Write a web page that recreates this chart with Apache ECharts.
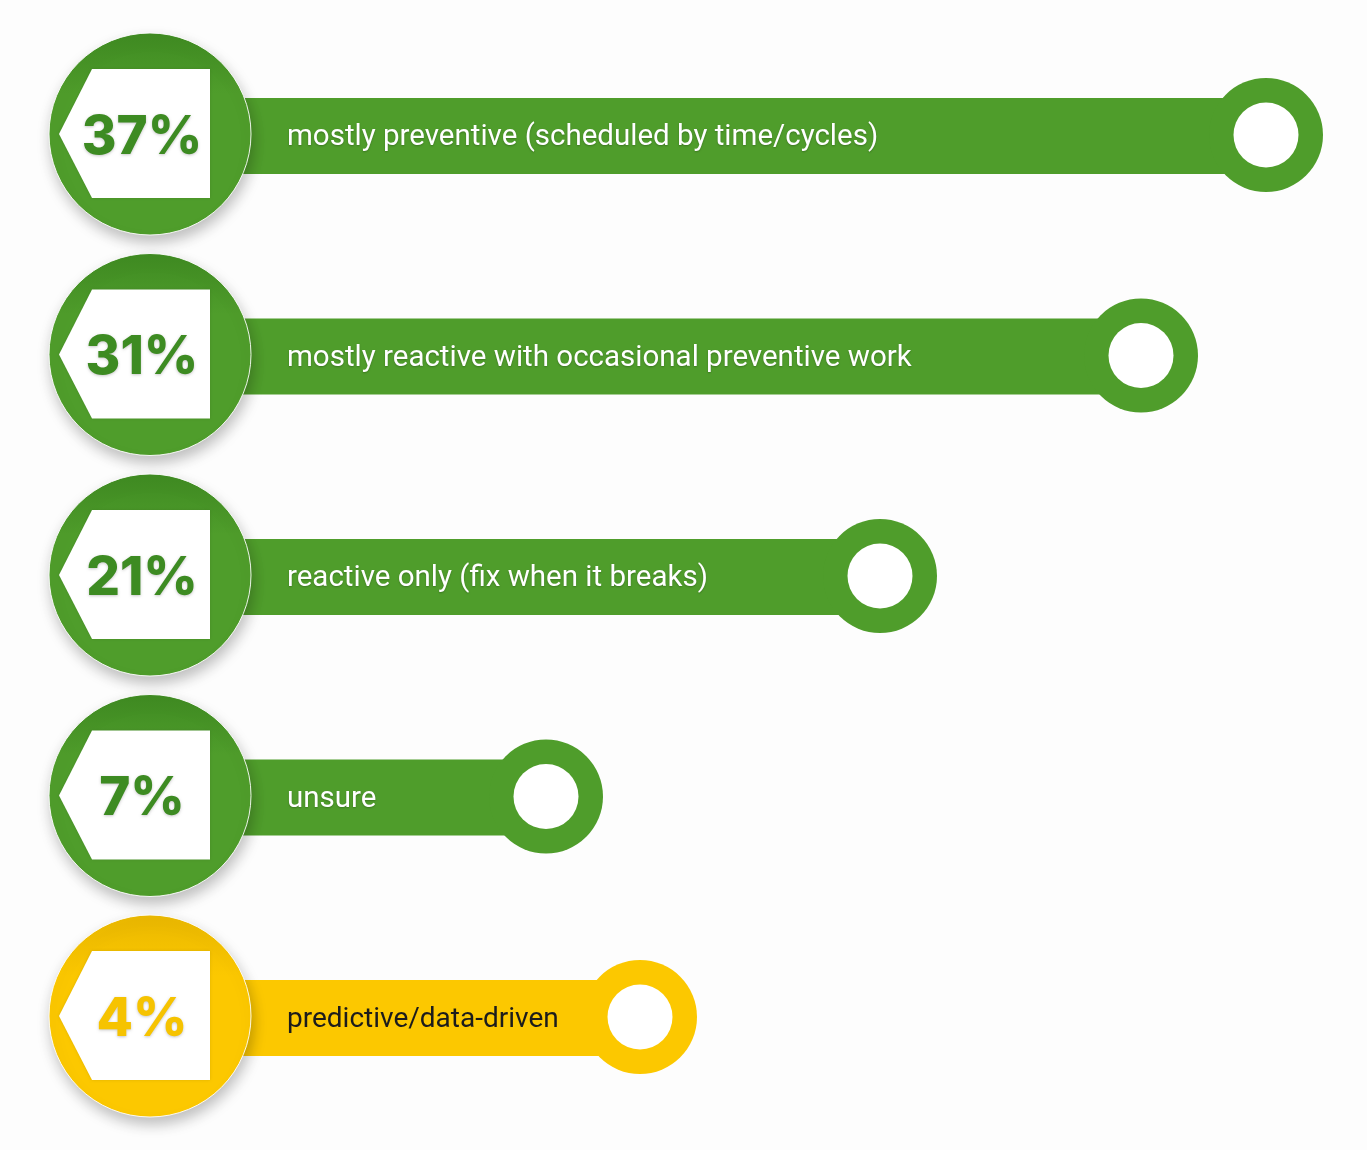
<!DOCTYPE html>
<html>
<head>
<meta charset="utf-8">
<script src="https://cdn.jsdelivr.net/npm/echarts@6/dist/echarts.min.js"></script>
<style>
html,body{margin:0;padding:0;background:#fdfdfd;}
#chart{width:1367px;height:1150px;}
</style>
</head>
<body>
<div id="chart"></div>
<script>
// Data
const categories = [
  'mostly preventive (scheduled by time/cycles)',
  'mostly reactive with occasional preventive work',
  'reactive only (fix when it breaks)',
  'unsure',
  'predictive/data-driven'
];
const percentages = [37, 31, 21, 7, 4];
// visual bar lengths (axis units) as drawn in the picture
const barLengths = [1116, 991, 730, 396, 490];
const highlighted = ['predictive/data-driven'];

const GREEN = '#4f9d2b', GREEN_DARK = '#3f8b22', GREEN_TEXT = '#3d8b22';
const YELLOW = '#fcc800', YELLOW_DARK = '#eab800', YELLOW_TEXT = '#f6c300';

const data = categories.map((c, i) => [barLengths[i], i, percentages[i]]);

const chart = echarts.init(document.getElementById('chart'), null, {renderer: 'canvas'});

function renderItem(params, api) {
  const idx = api.value(1);
  const name = categories[idx];
  const hl = highlighted.indexOf(name) >= 0;
  const fill = hl ? YELLOW : GREEN;
  const fillTop = hl ? YELLOW_DARK : GREEN_DARK;
  const pctColor = hl ? YELLOW_TEXT : GREEN_TEXT;
  const labelColor = hl ? '#1c1c1c' : '#ffffff';
  const start = api.coord([0, idx]);
  const end = api.coord([api.value(0), idx]);
  const x0 = start[0], y = start[1];
  const cy = y - 2;
  const R = 101;
  const circleFill = new echarts.graphic.LinearGradient(0, 0, 0, 1, [
    {offset: 0, color: fillTop}, {offset: 0.3, color: fill}, {offset: 1, color: fill}
  ]);
  return {
    type: 'group',
    children: [
      {type: 'rect', shape: {x: x0, y: y - 38, width: end[0] - x0, height: 76}, style: {fill: fill}},
      {type: 'circle', shape: {cx: end[0], cy: y - 1, r: 57}, style: {fill: fill}},
      {type: 'circle', shape: {cx: end[0], cy: y - 1, r: 32.5}, style: {fill: '#ffffff'}},
      {type: 'circle', shape: {cx: x0, cy: cy, r: R}, style: {
        fill: circleFill, stroke: 'rgba(255,255,255,0.9)', lineWidth: 1,
        shadowBlur: 14, shadowOffsetY: 7, shadowOffsetX: 2, shadowColor: 'rgba(0,0,0,0.25)'}},
      {type: 'polygon', shape: {points: [
        [x0 - 91, cy], [x0 - 58, cy - 65], [x0 + 60, cy - 65], [x0 + 60, cy + 64], [x0 - 58, cy + 64]
      ]}, style: {fill: '#ffffff', shadowBlur: 3, shadowColor: 'rgba(0,0,0,0.12)'}},
      {type: 'text', x: x0 - 8, y: cy + 4, style: {
        text: api.value(2) + '%', fill: pctColor, font: '800 53px Inter, Roboto, sans-serif',
        align: 'center', verticalAlign: 'middle',
        textShadowColor: 'rgba(0,0,0,0.22)', textShadowBlur: 3, textShadowOffsetY: 1}},
      {type: 'text', x: x0 + 137, y: y + 2, style: {
        text: name, fill: labelColor, font: (hl ? '28px' : '29.5px') + ' Roboto, "Open Sans", sans-serif',
        align: 'left', verticalAlign: 'middle',
        textShadowColor: hl ? 'rgba(0,0,0,0)' : 'rgba(0,0,0,0.25)', textShadowBlur: 2, textShadowOffsetY: 1}}
    ]
  };
}

chart.setOption({
  backgroundColor: '#fdfdfd',
  animation: false,
  grid: {left: 150, width: 1200, top: 25.75, height: 1102.5},
  xAxis: {type: 'value', min: 0, max: 1200, show: false},
  yAxis: {type: 'category', data: categories, inverse: true, show: false},
  series: [{
    type: 'custom',
    renderItem: renderItem,
    encode: {x: 0, y: 1},
    data: data,
    clip: false
  }]
});
</script>
</body>
</html>
